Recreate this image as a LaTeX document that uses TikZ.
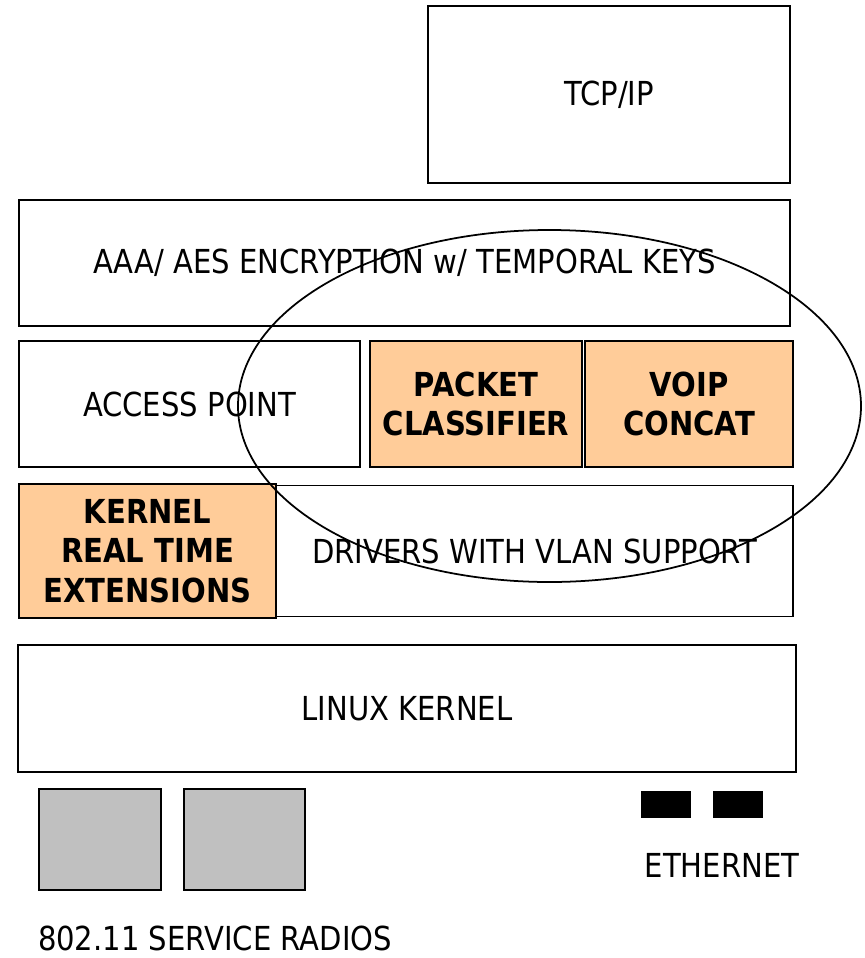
\documentclass[tikz,border=0pt]{standalone}
\usepackage{fontspec}
\setmainfont[FakeStretch=0.88]{DejaVu Sans}
\usepackage{tikz}
\usetikzlibrary{shapes.geometric, positioning}
\definecolor{qosorange}{HTML}{FFCC99}
\definecolor{radiogray}{HTML}{C0C0C0}

\begin{document}
\begin{tikzpicture}[
  layerbox/.style={rectangle, draw=black, line width=1.1pt, outer sep=0pt, inner sep=0pt, align=center, font=\fontsize{18.8pt}{21.6pt}\selectfont},
  qosbox/.style={layerbox, fill=qosorange, font=\fontsize{18.8pt}{22.6pt}\selectfont\bfseries},
  radiobox/.style={rectangle, draw=black, line width=1.1pt, fill=radiogray, outer sep=0pt, minimum width=2.43cm, minimum height=2.02cm},
  portbox/.style={rectangle, fill=black, outer sep=0pt, minimum width=1cm, minimum height=0.54cm},
  caption/.style={font=\fontsize{18.8pt}{21.6pt}\selectfont}
]
  \useasboundingbox (0,0) rectangle (17.3,-19.16);

  % Top of the stack
  \node[layerbox, minimum width=7.24cm, minimum height=3.54cm] (tcp) at (12.18,-1.89) {TCP/IP};
  \node[layerbox, minimum width=15.42cm, minimum height=2.52cm] (aaa) at (8.09,-5.26) {AAA/ AES ENCRYPTION w/ TEMPORAL KEYS};

  % Access point row
  \node[layerbox, minimum width=6.82cm, minimum height=2.52cm] (ap) at (3.79,-8.08) {ACCESS POINT};
  \node[qosbox, minimum width=4.24cm, minimum height=2.52cm, right=0.2cm of ap] (classifier) {PACKET\\CLASSIFIER};
  \node[qosbox, minimum width=4.16cm, minimum height=2.52cm, right=0.06cm of classifier] (voip) {VOIP\\CONCAT};

  % Kernel row
  \node[qosbox, minimum width=5.14cm, minimum height=2.68cm] (rt) at (2.95,-11.02) {KERNEL\\REAL TIME\\EXTENSIONS};
  \node[layerbox, minimum width=10.34cm, minimum height=2.62cm, right=0cm of rt] (drivers) {DRIVERS WITH VLAN SUPPORT};
  \node[layerbox, minimum width=15.56cm, minimum height=2.54cm] (linux) at (8.14,-14.17) {LINUX KERNEL};

  % Hardware
  \node[radiobox] (radioa) at (2.0,-16.79) {};
  \node[radiobox, right=0.46cm of radioa] (radiob) {};
  \node[portbox] (etha) at (13.32,-16.09) {};
  \node[portbox, right=0.44cm of etha] (ethb) {};
  \node[caption] (ethlabel) at (14.44,-17.3) {ETHERNET};
  \node[caption] (radiolabel) at (4.3,-18.76) {802.11 SERVICE RADIOS};

  % QoS focus
  \node[ellipse, draw=black, line width=1pt, minimum width=12.46cm, minimum height=7.04cm] (focus) at (10.99,-8.12) {};
\end{tikzpicture}
\end{document}
